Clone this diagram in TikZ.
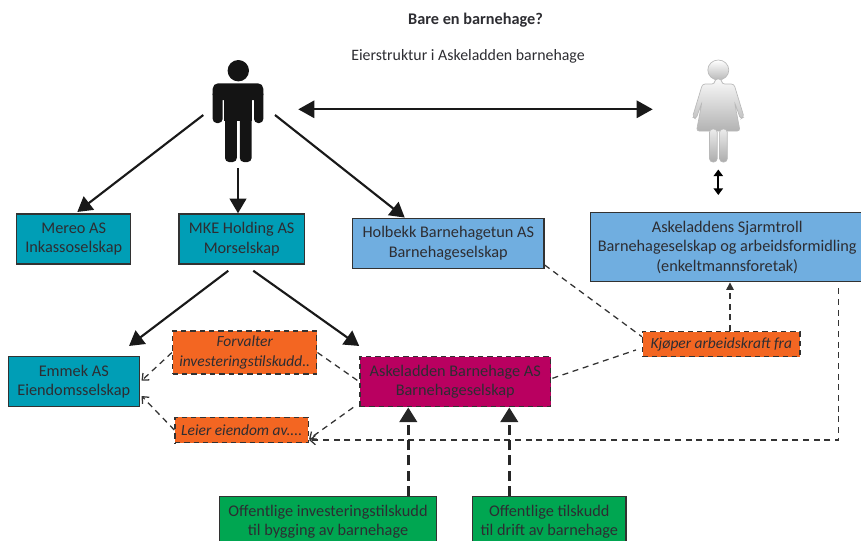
\documentclass[tikz,border=0pt]{standalone}
\usepackage{fontspec}
\setmainfont{Carlito}
\usetikzlibrary{arrows.meta,calc}
\definecolor{tealbox}{RGB}{0,158,182}
\definecolor{bluebox}{RGB}{112,174,224}
\definecolor{magbox}{RGB}{185,0,96}
\definecolor{orbox}{RGB}{243,102,34}
\definecolor{grbox}{RGB}{0,166,81}
\definecolor{edge}{RGB}{50,50,50}
\definecolor{txt}{RGB}{45,45,50}
\begin{document}
\begin{tikzpicture}[x=0.75pt,y=-0.75pt,
  every node/.style={text=txt},
  boxbase/.style 2 args={minimum width=#1*0.75pt, minimum height=#2*0.75pt, inner sep=0pt, align=center,
     font=\fontsize{12.2}{14.6}\selectfont, line width=1.1pt, draw=edge},
  tbox/.style 2 args={boxbase={#1}{#2}, fill=tealbox},
  bbox/.style 2 args={boxbase={#1}{#2}, fill=bluebox},
  mbox/.style 2 args={boxbase={#1}{#2}, fill=magbox, dashed, dash pattern=on 4pt off 3pt},
  obox/.style 2 args={boxbase={#1}{#2}, fill=orbox, dash pattern=on 4pt off 3pt, font=\fontsize{11.6}{14.6}\selectfont\itshape},
  gbox/.style 2 args={boxbase={#1}{#2}, fill=grbox},
  solidarrow/.style={line width=1.6pt, draw=black!90, -{Triangle[length=11pt,width=12.5pt]}},
  thinlink/.style={line width=0.95pt, draw=black!80, dash pattern=on 4.5pt off 3.5pt},
  thinarrow/.style={thinlink, -{Straight Barb[length=4pt,width=7pt]}},
  thinarrowfill/.style={thinlink, -{Triangle[length=5.5pt,width=5.5pt]}},
  thickarrow/.style={line width=2.3pt, draw=black!85, dash pattern=on 7.5pt off 4pt, -{Triangle[length=11pt,width=13pt]}},
]
\useasboundingbox (0,0) rectangle (861,540);

% titles
\node[font=\fontsize{12.2}{14}\selectfont\bfseries] (title) at (475.5,20) {Bare en barnehage?};
\node[font=\fontsize{11.9}{14}\selectfont] (subtitle) at (468,56.7) {Eierstruktur i Askeladden barnehage};

% man figure
\begin{scope}[fill=black!92]
  \fill (238.3,70.7) circle[radius=10.7*0.75pt];
  \fill[rounded corners=4pt] (212.7,83.3) rectangle (263.3,100);
  \fill[rounded corners=3pt] (212.7,90) rectangle (222.6,123);
  \fill[rounded corners=3pt] (254,90) rectangle (263.3,123);
  \fill (224.3,90) rectangle (252.3,121);
  \fill[rounded corners=3pt] (225,112) rectangle (236.8,162);
  \fill[rounded corners=3pt] (239.8,112) rectangle (251.6,162);
\end{scope}

% woman figure
\begin{scope}[draw=gray!55, line width=0.5pt]
  \shade[top color=white, bottom color=gray!55, draw=gray!55] (718.3,70) ellipse[x radius=10.5*0.75pt, y radius=10*0.75pt];
  \shade[top color=gray!5, bottom color=gray!60, draw=gray!55, rounded corners=2pt]
    (715,79) -- (721.5,79) -- (722,84) -- (734,84) -- (744,117) -- (740.5,119) -- (734.5,102)
    -- (740,131) -- (696.5,131) -- (702,102) -- (696,119) -- (692.5,117) -- (702.5,84) -- (714.5,84) -- cycle;
  \shade[top color=gray!15, bottom color=gray!65, draw=gray!55, rounded corners=2.5pt] (709.5,129) rectangle (717.2,162);
  \shade[top color=gray!15, bottom color=gray!65, draw=gray!55, rounded corners=2.5pt] (719.6,129) rectangle (727.3,162);
\end{scope}

% named coordinates at the figures
\coordinate (manL) at (203.3,115);
\coordinate (manB) at (238,168);
\coordinate (manR) at (275,115);
\coordinate (manE) at (298.3,109.3);
\coordinate (womW) at (652.7,109.3);
\coordinate (womS) at (718.3,169.5);
\coordinate (womS2) at (718.3,195);

% boxes
\node[tbox={114}{50}] (mereo) at (73.7,239) {Mereo AS\\Inkassoselskap};
\node[tbox={125.3}{50}] (mke) at (241.7,239) {MKE Holding AS\\Morselskap};
\node[bbox={191.3}{50}] (holbekk) at (448.3,243.3) {Holbekk Barnehagetun AS\\Barnehageselskap};
\node[bbox={273}{69}] (sjarm) at (727.2,247.2) {Askeladdens Sjarmtroll\\Barnehageselskap og arbeidsformidling\\(enkeltmannsforetak)};
\node[tbox={131}{50}] (emmek) at (73.8,381.7) {Emmek AS\\Eiendomsselskap};
\node[obox={144}{43}] (forv) at (244.7,352.5) {Forvalter\\investeringstilskudd..};
\node[obox={133.3}{25.4}] (leier) at (241.7,430) {Leier eiendom av....};
\node[mbox={190.7}{50}] (aske) at (455.3,381.7) {Askeladden Barnehage AS\\Barnehageselskap};
\node[obox={157.3}{25}] (kjop) at (721.3,344.2) {Kjøper arbeidskraft fra};
\node[gbox={217.4}{50}, anchor=north] (gr1) at (328,496) {Offentlige investeringstilskudd\\til bygging av barnehage};
\node[gbox={153.3}{50}, anchor=north] (gr2) at (549.3,496) {Offentlige tilskudd\\til drift av barnehage};

% solid arrows
\draw[solidarrow, {Triangle[length=12pt,width=13pt]}-{Triangle[length=12pt,width=13pt]}, line width=1.5pt] (manE) -- (womW);
\draw[line width=1.5pt, {Triangle[length=5pt,width=7pt]}-{Triangle[length=5pt,width=7pt]}] (womS) -- (womS2);
\draw[solidarrow] (manL) -- ($(mereo.north)+(3.6,-1.3)$);
\draw[solidarrow] (manB) -- (mke.north -| manB);
\draw[solidarrow] (manR) -- ($(holbekk.north west)!0.274!(holbekk.north east)$);
\draw[solidarrow] ($(mke.south)+(-13.4,6)$) -- ($(emmek.north east)+(-11,-10)$);
\draw[solidarrow] ($(mke.south)+(11.6,6)$) -- ($(aske.north west)+(0,-10)$);

% thin dashed links
\draw[thinarrow] (forv.west) -- ($(emmek.east)+(1.5,-1)$);
\draw[thinlink] (forv.east) -- (aske.west);
\draw[thinarrow] (leier.west) -- ($(emmek.east)+(1.5,14.3)$);
\draw[thinarrow] ($(aske.south west)+(-6,0)$) -- ($(leier.south east)+(0,-4.4)$);
\draw[thinarrow] ($(sjarm.south east)+(-25.7,6)$) |- ($(leier.south east)+(0,-3.4)$);
\draw[thinlink] ($(holbekk.south east)+(0,-4)$) -- ($(kjop.west)+(0,-7.5)$);
\draw[thinlink] ($(aske.east)+(1,-3.4)$) -- ($(kjop.west)+(-6,5.8)$);
\coordinate (k1) at ($(kjop.north)+(8.7,0)$);
\draw[thinarrowfill] (k1) -- (k1 |- sjarm.south);

% thick dashed arrows from the green boxes
\coordinate (ga) at (408.3,0);
\coordinate (gb) at (509.3,0);
\draw[thickarrow] (gr1.north -| ga) -- (aske.south -| ga);
\draw[thickarrow] (gr2.north -| gb) -- (aske.south -| gb);
\end{tikzpicture}
\end{document}
